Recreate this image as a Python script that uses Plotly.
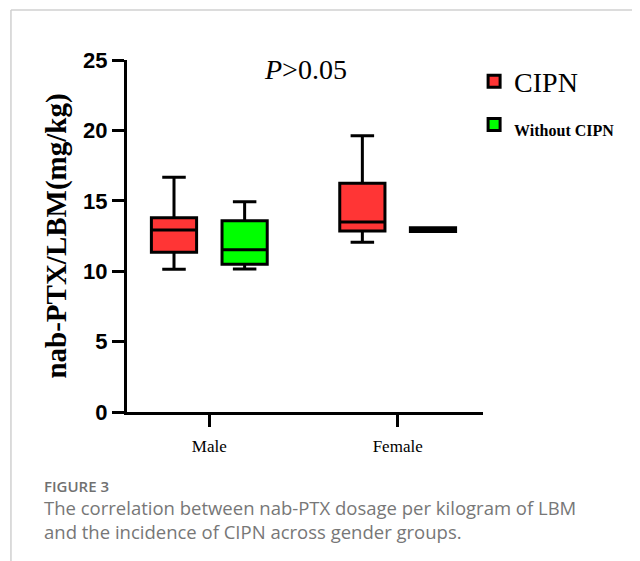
import plotly.graph_objects as go

# ---- data ----
categories = ["Male", "Female"]

cipn_lower = [10.13, 12.05]
cipn_q1 = [11.34, 12.86]
cipn_median = [12.93, 13.49]
cipn_q3 = [13.80, 16.24]
cipn_upper = [16.67, 19.62]

without_lower = [10.16, 12.82]
without_q1 = [10.49, 12.82]
without_median = [11.53, 12.95]
without_q3 = [13.59, 13.08]
without_upper = [14.94, 13.08]

y_ticks = [0, 5, 10, 15, 20, 25]

SERIF = "Liberation Serif"
SANS = "Liberation Sans"

fig = go.Figure()
fig.add_trace(go.Box(
    name="CIPN", x=categories,
    lowerfence=cipn_lower, q1=cipn_q1, median=cipn_median,
    q3=cipn_q3, upperfence=cipn_upper,
    fillcolor="#FF3535", line=dict(color="black", width=3),
    whiskerwidth=0.52, boxpoints=False, legendgroup="a", hoverinfo="skip",
))
fig.add_trace(go.Box(
    name="<b><span style='font-size:16px'>Without CIPN</span></b>", x=categories,
    lowerfence=without_lower, q1=without_q1, median=without_median,
    q3=without_q3, upperfence=without_upper,
    fillcolor="#00FF00", line=dict(color="black", width=3),
    whiskerwidth=0.52, boxpoints=False, legendgroup="b", hoverinfo="skip",
))

# page body has an 8px margin, so the figure is 8px smaller and offset
fig.update_layout(
    width=632, height=553,
    margin=dict(l=119, r=157, t=52, b=149, autoexpand=False),
    paper_bgcolor="white", plot_bgcolor="white",
    boxmode="group", boxgap=0.25, boxgroupgap=0.36,
    showlegend=True,
    legend=dict(x=0.975, y=1.01, xanchor="left", yanchor="top",
                font=dict(family=SERIF, size=28, color="black"),
                tracegroupgap=4, bgcolor="rgba(0,0,0,0)",
                itemclick=False, itemdoubleclick=False),
    xaxis=dict(
        type="category", range=[-0.437, 1.453],
        showline=True, linecolor="black", linewidth=3,
        ticks="outside", ticklen=12, tickwidth=3, tickcolor="black",
        tickfont=dict(family=SERIF, size=17, color="black"),
        ticklabelstandoff=5,
        showgrid=False, zeroline=False, fixedrange=True,
    ),
    yaxis=dict(
        range=[0, 25], tickvals=y_ticks,
        showline=True, linecolor="black", linewidth=3,
        ticks="outside", ticklen=12, tickwidth=3, tickcolor="black",
        tickfont=dict(family=SANS, size=22, color="black", weight="bold"),
        showgrid=False, zeroline=False, fixedrange=True,
        title=dict(text="nab-PTX/LBM(mg/kg)", standoff=8,
                   font=dict(family=SERIF, size=29, color="black", weight="bold")),
    ),
    annotations=[
        dict(text="<i>P</i>&gt;0.05", xref="paper", yref="paper", x=0.5, y=1.0,
             xanchor="center", yanchor="top", yshift=8, showarrow=False,
             font=dict(family=SERIF, size=28, color="black")),
        dict(text="FIGURE 3", xref="paper", yref="paper", x=-0.236, y=-0.21,
             xanchor="left", yanchor="middle", showarrow=False,
             height=12, valign="middle", borderpad=0,
             font=dict(family="Open Sans", size=15, color="#707070", weight=600)),
        dict(text="The correlation between nab-PTX dosage per kilogram of LBM<br>"
                  "and the incidence of CIPN across gender groups.",
             xref="paper", yref="paper", x=-0.238, y=-0.2305,
             xanchor="left", yanchor="top", align="left", showarrow=False,
             font=dict(family="Open Sans", size=18.5, color="#777777")),
    ],
    shapes=[
        dict(type="line", xref="paper", yref="paper", x0=-0.326, x1=1.45,
             y0=1.142, y1=1.142, line=dict(color="#d0d0d0", width=1.5)),
        dict(type="line", xref="paper", yref="paper", x0=-0.326, x1=-0.326,
             y0=1.142, y1=-0.45, line=dict(color="#d0d0d0", width=1.5)),
    ],
)

fig.write_html("out.html", config={"displayModeBar": False})
